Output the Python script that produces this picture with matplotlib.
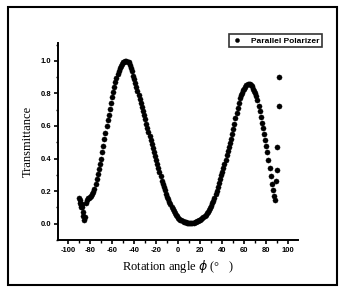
import numpy as np
import matplotlib
matplotlib.use('Agg')
import matplotlib.pyplot as plt
from matplotlib.patches import Rectangle
from matplotlib.ticker import MultipleLocator

# start of the scan (scattered points near -90 deg)
angle_start = [-90, -89.5, -89, -88.5, -88, -87.5, -87, -86.5, -86, -85.5, -85]
trans_start = [0.155, 0.145, 0.13, 0.115, 0.105, 0.12, 0.10, 0.07, 0.045, 0.025, 0.04]

# main scan, 1 degree steps from -84 to 88
angle_main = np.arange(-84, 89)
trans_main = [
    0.13, 0.145, 0.155, 0.16, 0.165, 0.17, 0.18, 0.195, 0.215, 0.245,
    0.275, 0.305, 0.335, 0.365, 0.40, 0.44, 0.48, 0.52, 0.56, 0.60,
    0.635, 0.67, 0.705, 0.74, 0.775, 0.81, 0.84, 0.87, 0.895, 0.92,
    0.94, 0.955, 0.97, 0.98, 0.99, 0.995, 1.0, 1.0, 0.995, 0.99,
    0.975, 0.955, 0.935, 0.91, 0.89, 0.865, 0.84, 0.815, 0.79, 0.765,
    0.74, 0.715, 0.69, 0.665, 0.64, 0.615, 0.59, 0.565, 0.54, 0.515,
    0.49, 0.465, 0.44, 0.415, 0.39, 0.365, 0.34, 0.315, 0.29, 0.265,
    0.245, 0.225, 0.205, 0.185, 0.165, 0.15, 0.135, 0.12, 0.105, 0.09,
    0.077, 0.065, 0.055, 0.046, 0.038, 0.031, 0.025, 0.02, 0.016, 0.013,
    0.01, 0.008, 0.007, 0.006, 0.005, 0.005, 0.005, 0.006, 0.007, 0.009,
    0.011, 0.014, 0.017, 0.021, 0.025, 0.03, 0.035, 0.041, 0.048, 0.055,
    0.063, 0.073, 0.085, 0.097, 0.11, 0.125, 0.14, 0.16, 0.18, 0.20,
    0.225, 0.25, 0.275, 0.30, 0.32, 0.34, 0.365, 0.39, 0.42, 0.445,
    0.47, 0.495, 0.52, 0.55, 0.58, 0.615, 0.65, 0.68, 0.71, 0.74,
    0.77, 0.79, 0.805, 0.82, 0.83, 0.84, 0.85, 0.855, 0.86, 0.858,
    0.852, 0.845, 0.83, 0.815, 0.80, 0.785, 0.76, 0.725, 0.69, 0.655,
    0.62, 0.585, 0.55, 0.515, 0.475, 0.44, 0.39, 0.34, 0.29, 0.245,
    0.205, 0.17, 0.145,
]

# stray points at the end of the scan
angle_end = [89.1, 89.8, 89.8, 91.2, 91.2]
trans_end = [0.26, 0.33, 0.47, 0.72, 0.90]

angle = np.concatenate([angle_start, angle_main, angle_end])
trans = np.concatenate([trans_start, trans_main, trans_end])

fig = plt.figure(figsize=(3.4, 2.92), dpi=100)
ax = fig.add_axes([0.171, 0.178, 0.706, 0.675])

ax.plot(angle, trans, 'o', color='black', ms=3.7, mec='black', mew=0.3,
        label='Parallel Polarizer')

ax.set_xlim(-109, 109)
ax.set_ylim(-0.1, 1.11)
ax.xaxis.set_minor_locator(MultipleLocator(10))
ax.yaxis.set_minor_locator(MultipleLocator(0.1))
ax.set_xticks(np.arange(-100, 101, 20))
ax.set_xticklabels([str(v) for v in range(-100, 101, 20)])
ax.set_yticks([0.0, 0.2, 0.4, 0.6, 0.8, 1.0])
ax.set_yticklabels(['0.0', '0.2', '0.4', '0.6', '0.8', '1.0'])

for s in ['top', 'right']:
    ax.spines[s].set_visible(False)
for s in ['left', 'bottom']:
    ax.spines[s].set_linewidth(1.4)

ax.tick_params(which='major', direction='out', length=3, width=1.2, pad=2)
ax.tick_params(which='minor', direction='out', length=1.8, width=1.0)
for lab in ax.get_xticklabels() + ax.get_yticklabels():
    lab.set_fontfamily('Liberation Sans')
    lab.set_fontweight('bold')
    lab.set_fontsize(5.5)

serif = ['Liberation Serif', 'DejaVu Serif']
ax.set_xlabel('Rotation angle $\\phi$ (°   )', family=serif, fontsize=9, labelpad=3)
ax.set_ylabel('Transmittance', family=serif, fontsize=9, labelpad=5)

leg = fig.legend(loc='upper right', bbox_to_anchor=(0.958, 0.897),
                 prop={'family': 'Liberation Sans', 'weight': 'bold', 'size': 6},
                 frameon=True, fancybox=False, edgecolor='black',
                 borderpad=0.3, handletextpad=1.0, handlelength=1.3,
                 markerscale=0.8)
leg.get_frame().set_linewidth(1.2)

# outer border of the figure panel
fig.add_artist(Rectangle((0.024, 0.024), 0.966, 0.952, transform=fig.transFigure,
                         fill=False, edgecolor='black', linewidth=1.5))

fig.savefig('out.png', dpi=100)
